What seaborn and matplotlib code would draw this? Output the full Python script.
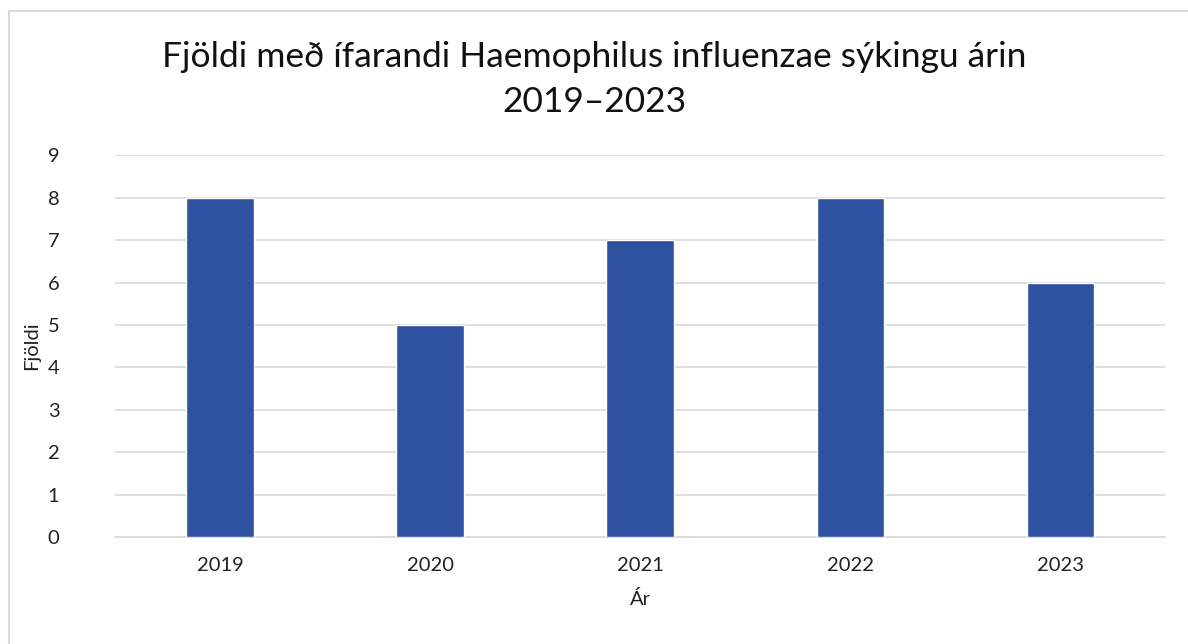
import matplotlib
matplotlib.use("Agg")
import matplotlib.pyplot as plt
import matplotlib.lines as mlines
import seaborn as sns
import pandas as pd

# Data
years = ["2019", "2020", "2021", "2022", "2023"]
counts = [8, 5, 7, 8, 6]

df = pd.DataFrame({"Ár": years, "Fjöldi": counts})

sns.set_style("white")
plt.rcParams["font.family"] = ["Lato", "DejaVu Sans"]

fig = plt.figure(figsize=(11.88, 6.44), dpi=100)
ax = fig.add_axes([0.0968, 0.166, 0.884, 0.593])

sns.barplot(data=df, x="Ár", y="Fjöldi", color="#2F52A0", width=0.32,
            saturation=1, ax=ax, zorder=3)

ax.set_ylim(0, 9)
ax.set_yticks(range(0, 10))
ax.set_xlim(-0.5, 4.5)
ax.grid(axis="y", color="#D9D9D9", linewidth=1.2, zorder=0)
ax.grid(axis="x", visible=False)
for s in ["top", "right", "left"]:
    ax.spines[s].set_visible(False)
ax.spines["bottom"].set_color("#D9D9D9")
ax.spines["bottom"].set_linewidth(1.2)
ax.tick_params(axis="both", length=0, labelsize=14.5, colors="#222222")
ax.tick_params(axis="y", pad=40)
ax.tick_params(axis="x", pad=14)

ax.set_xlabel("Ár", fontsize=14.5, color="#222222", labelpad=12)
ax.set_ylabel("Fjöldi", fontsize=14.5, color="#222222")
ax.yaxis.set_label_coords(-0.071, 0.5)

fig.text(0.5, 0.877, "Fjöldi með ífarandi Haemophilus influenzae sýkingu árin\n2019–2023",
         ha="center", va="center", fontsize=25.5, color="#111111", linespacing=1.5)

# chart area frame (left and top edges visible)
fig.add_artist(mlines.Line2D([9 / 1188, 9 / 1188], [0, 1 - 11 / 644],
                             transform=fig.transFigure, color="#D9D9D9", lw=1.5))
fig.add_artist(mlines.Line2D([9 / 1188, 1], [1 - 11 / 644, 1 - 11 / 644],
                             transform=fig.transFigure, color="#D9D9D9", lw=1.5))

fig.savefig("out.png", dpi=100)
